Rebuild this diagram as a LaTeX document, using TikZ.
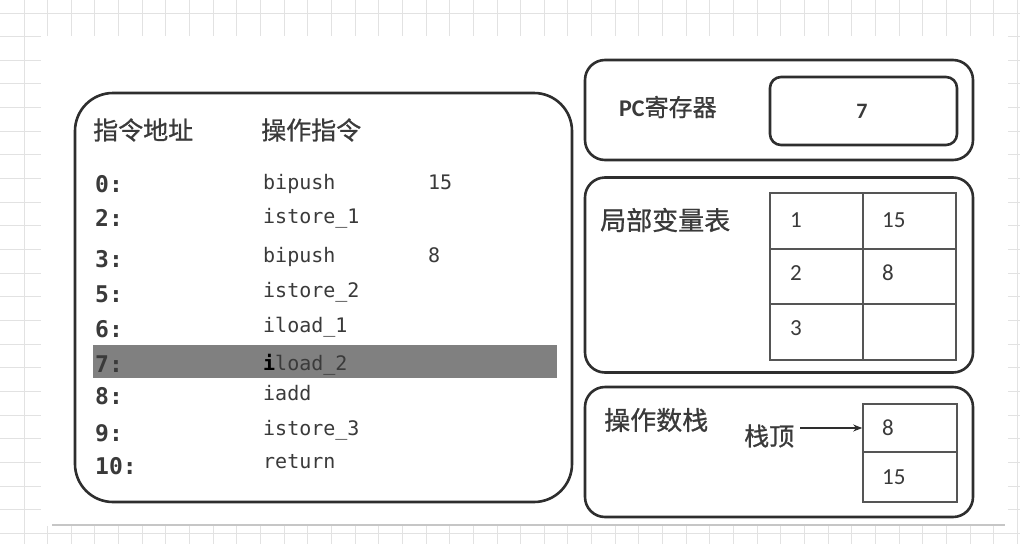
\documentclass[tikz,border=0pt]{standalone}
\usepackage{fontspec}
\usetikzlibrary{arrows.meta}
\newfontfamily\cjk[BoldFont={Noto Sans CJK SC}, BoldFeatures={FakeBold=0.8}]{Noto Sans CJK SC}
\newfontfamily\monofam{DejaVu Sans Mono}
\newfontfamily\numfam{Carlito}
\definecolor{gridc}{HTML}{E2E2E2}
\definecolor{linec}{HTML}{2E2E2E}
\definecolor{textc}{HTML}{3A3A3A}
\definecolor{cellc}{HTML}{555555}
\definecolor{barc}{HTML}{808080}
\tikzset{
  panel/.style={draw=linec, line width=2.6pt, rounded corners=#1, fill=white, inner sep=0pt},
  panel/.default=20pt,
  cell/.style={draw=cellc, line width=1.6pt, inner sep=0pt},
  cjklabel/.style={anchor=west, inner sep=0pt, text=textc, font=\cjk\bfseries\fontsize{25}{30}\selectfont},
  addr/.style={anchor=base west, inner sep=0pt, text=textc, font=\monofam\bfseries\fontsize{23}{26}\selectfont},
  instr/.style={anchor=base west, inner sep=0pt, text=textc, font=\monofam\fontsize{20}{24}\selectfont},
  numtxt/.style={anchor=west, inner sep=0pt, text=textc, font=\numfam\fontsize{23}{27}\selectfont},
}
\begin{document}
\begin{tikzpicture}[x=1pt, y=-1pt]
\useasboundingbox (0,0) rectangle (1020,544);
% background grid
\fill[white] (0,0) rectangle (1020,544);
\foreach \i in {0,...,43} {
  \draw[gridc, line width=1pt] ({24+23.65*\i},0) -- ({24+23.65*\i},544);
}
\foreach \j in {0,...,22} {
  \draw[gridc, line width=1pt] (0,{13+23.65*\j}) -- (1020,{13+23.65*\j});
}
\fill[white] (41,36) rectangle (1008,526);
\draw[gray!45, line width=2pt] (52,525) -- (1005,525);

% left panel
\node[panel=38pt, minimum width=497pt, minimum height=409pt] (code) at (323.5,297.5) {};
\node[cjklabel] (h1) at (93,130) {指令地址};
\node[cjklabel] (h2) at (261,130) {操作指令};
\fill[barc] (93,345) rectangle (557,378);
\node[inner sep=0pt, minimum width=464pt, minimum height=33pt] (bar) at (325,361.5) {};

\node[addr] (a0) at (95,192) {0:};
\node[addr] (a2) at (95,226) {2:};
\node[addr] (a3) at (95,267) {3:};
\node[addr] (a5) at (95,302) {5:};
\node[addr] (a6) at (95,337) {6:};
\node[addr] (a7) at (95,372) {7:};
\node[addr] (a8) at (95,404) {8:};
\node[addr] (a9) at (95,441) {9:};
\node[addr] (a10) at (95,474) {10:};

\node[instr] (i0) at (263,189) {bipush};
\node[instr] (i2) at (263,223) {istore\_1};
\node[instr] (i3) at (263,262) {bipush};
\node[instr] (i5) at (263,297) {istore\_2};
\node[instr] (i6) at (263,332) {iload\_1};
\node[instr] (i7) at (263,370) {{\bfseries\color{black}i}load\_2};
\node[instr] (i8) at (263,400) {iadd};
\node[instr] (i9) at (263,435) {istore\_3};
\node[instr] (i10) at (263,468) {return};

\node[instr] (o0) at (428,189) {15};
\node[instr] (o3) at (428,262) {8};

% PC register panel
\node[panel, minimum width=388pt, minimum height=100pt] (pc) at (779,110) {};
\node[cjklabel, font=\cjk\bfseries\fontsize{24}{28}\selectfont] (pclabel) at (619,107) {{\numfam\bfseries PC}寄存器};
\node[panel=11pt, minimum width=187pt, minimum height=68pt] (pcval) at (863.5,111) {};
\node[inner sep=0pt, text=textc, font=\numfam\bfseries\fontsize{22}{26}\selectfont] (seven) at (862,111) {7};

% local variable table panel
\node[panel, minimum width=388pt, minimum height=195pt] (lvt) at (779,275) {};
\node[cjklabel, font=\cjk\bfseries\fontsize{26}{30}\selectfont] (lvtlabel) at (600,220) {局部变量表};
\node[cell, minimum width=93pt, minimum height=56pt] (c11) at (816.5,221) {};
\node[cell, minimum width=93pt, minimum height=56pt] (c12) at (909.5,221) {};
\node[cell, minimum width=93pt, minimum height=55pt] (c21) at (816.5,276.5) {};
\node[cell, minimum width=93pt, minimum height=55pt] (c22) at (909.5,276.5) {};
\node[cell, minimum width=93pt, minimum height=56pt] (c31) at (816.5,332) {};
\node[cell, minimum width=93pt, minimum height=56pt] (c32) at (909.5,332) {};
\node[numtxt] (n1) at (790,220) {1};
\node[numtxt] (n15) at (882,220) {15};
\node[numtxt] (n2) at (790,273) {2};
\node[numtxt] (n8) at (882,273) {8};
\node[numtxt] (n3) at (790,328) {3};

% operand stack panel
\node[panel, minimum width=388pt, minimum height=130pt] (ops) at (779,452) {};
\node[cjklabel, font=\cjk\bfseries\fontsize{26}{30}\selectfont] (opslabel) at (604,420) {操作数栈};
\node[cjklabel] (top) at (744,436) {栈顶};
\node[cell, minimum width=94pt, minimum height=48pt] (s1) at (910,428) {};
\node[cell, minimum width=94pt, minimum height=50pt] (s2) at (910,477) {};
\node[numtxt] (sv1) at (882,428) {8};
\node[numtxt] (sv2) at (882,477) {15};
\draw[linec, line width=1.2pt, -{Stealth[length=9pt, width=7pt]}] (top.east |- s1.west) ++(6,0) -- (s1.west);
\end{tikzpicture}
\end{document}
